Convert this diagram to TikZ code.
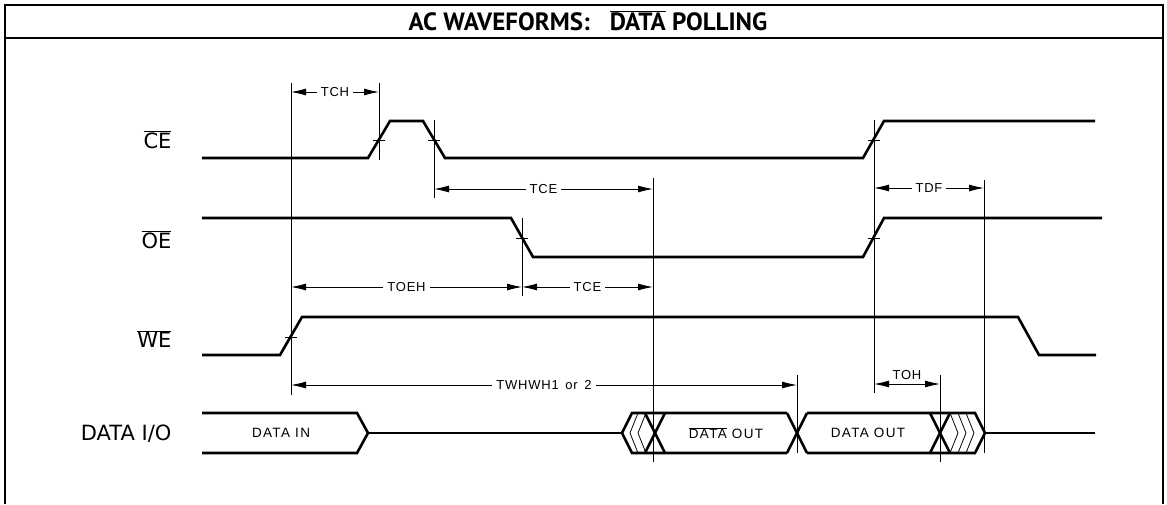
\documentclass[tikz,border=0pt]{standalone}
\usepackage{fontspec}
\setmainfont{Liberation Sans}
\newfontfamily\titlefont{PT Sans}
\newfontfamily\sigfont{DejaVu Sans}
\newfontfamily\lblfont[LetterSpace=6]{Liberation Sans}
\newfontfamily\cellfont[LetterSpace=10]{Liberation Sans}
\usetikzlibrary{arrows.meta}
\newcommand{\ovl}[1]{$\overline{\mbox{#1}}$}
\tikzset{
  wave/.style={line width=2.6pt, line join=miter},
  guide/.style={line width=0.9pt},
  dim/.style={line width=0.9pt, {Latex[length=15pt,width=7pt]}-{Latex[length=15pt,width=7pt]}},
  dimlbl/.style={fill=white, inner xsep=4pt, inner ysep=1pt, font=\lblfont\fontsize{13}{13}\selectfont},
  tick/.style={line width=0.9pt},
  sig/.style={anchor=east, font=\sigfont\fontsize{21}{21}\selectfont},
  cell/.style={font=\cellfont\fontsize{13.5}{13.5}\selectfont},
  hatch/.style={line width=0.8pt},
  frame/.style={line width=2.4pt}
}
\begin{document}
\begin{tikzpicture}[x=1pt,y=-1pt]
\useasboundingbox (0,0) rectangle (1167,504);
% frame
\draw[frame] (5,504) -- (5,5) -- (1163,5) -- (1163,504);
\draw[frame] (5,38) -- (1163,38);
\node[font=\titlefont\bfseries\fontsize{25}{25}\selectfont] (title) at (588,21) {AC WAVEFORMS:\hspace{0.8em}\ovl{DATA} POLLING};

% signal labels
\node[sig] (lce) at (175,140) {\ovl{CE}};
\node[sig] (loe) at (175,240) {\ovl{OE}};
\node[sig] (lwe) at (175,339) {\ovl{WE}};
\node[sig] (lio) at (175,434) {DATA I/O};

% CE
\draw[wave] (202,158) -- (368,158) -- (390,121) -- (423,121) -- (445,158) -- (863,158) -- (884,121) -- (1095,121);
% OE
\draw[wave] (202,218) -- (511,218) -- (533,257) -- (863,257) -- (884,218) -- (1102,218);
% WE
\draw[wave] (202,355) -- (280,355) -- (302,317) -- (1018,317) -- (1039,355) -- (1096,355);

% DATA I/O bus
\draw[wave] (202,413) -- (357,413) -- (368,433) -- (357,453) -- (202,453);
\draw[wave] (368,433) -- (622,433);
\draw[wave] (787,413) -- (632,413) -- (622,433) -- (632,453) -- (787,453);
\draw[wave] (645,413) -- (665,453);
\draw[wave] (645,453) -- (665,413);
\draw[hatch] (638,413) -- (630,433) -- (638,453);
\draw[hatch] (646,413) -- (638,433) -- (646,453);
\draw[wave] (787,413) -- (807,453);
\draw[wave] (787,453) -- (807,413);
\draw[wave] (807,413) -- (975,413) -- (985,433) -- (975,453) -- (807,453);
\draw[wave] (930,413) -- (950,453);
\draw[wave] (930,453) -- (950,413);
\draw[hatch] (950,413) -- (958,433) -- (950,453);
\draw[hatch] (958,413) -- (966,433) -- (958,453);
\draw[hatch] (966,413) -- (974,433) -- (966,453);
\draw[wave] (985,433) -- (1095,433);
\node[cell] (din) at (281,433) {DATA IN};
\node[cell] (dob) at (726,433) {\ovl{DATA} OUT};
\node[cell] (dout) at (868,433) {DATA OUT};

% guide lines
\coordinate (g1t) at (291,83);  \coordinate (g1b) at (291,395);
\coordinate (g2t) at (379,83);  \coordinate (g2b) at (379,160);
\coordinate (g3t) at (434,120); \coordinate (g3b) at (434,198);
\coordinate (g4t) at (522,218); \coordinate (g4b) at (522,296);
\coordinate (g5t) at (653,178); \coordinate (g5b) at (653,462);
\coordinate (g6t) at (797,375); \coordinate (g6b) at (797,453);
\coordinate (g7t) at (874,120); \coordinate (g7b) at (874,393);
\coordinate (g8t) at (984,180); \coordinate (g8b) at (984,453);
\coordinate (g9t) at (940,375); \coordinate (g9b) at (940,462);
\foreach \g in {1,...,9} \draw[guide] (g\g t) -- (g\g b);

% crossing ticks
\foreach \p in {(379,140),(434,140),(522,238),(291,337),(874,140),(874,238)}
  \draw[tick] \p ++(-6,0) -- ++(12,0);

% dimension arrows
\draw[dim] (291,92) -- node[dimlbl] (tch) {TCH} (379,92);
\draw[dim] (434,189) -- node[dimlbl] (tce1) {TCE} (653,189);
\draw[dim] (291,287) -- node[dimlbl] (toeh) {TOEH} (522,287);
\draw[dim] (522,287) -- node[dimlbl] (tce2) {TCE} (653,287);
\draw[dim] (291,385) -- node[dimlbl] (twh) {TWHWH1\, or\, 2} (797,385);
\draw[dim] (874,188) -- node[dimlbl] (tdf) {TDF} (984,188);
\draw[dim] (874,384) -- node[font=\lblfont\fontsize{13}{13}\selectfont, above=1pt] (toh) {TOH} (940,384);
\end{tikzpicture}
\end{document}
